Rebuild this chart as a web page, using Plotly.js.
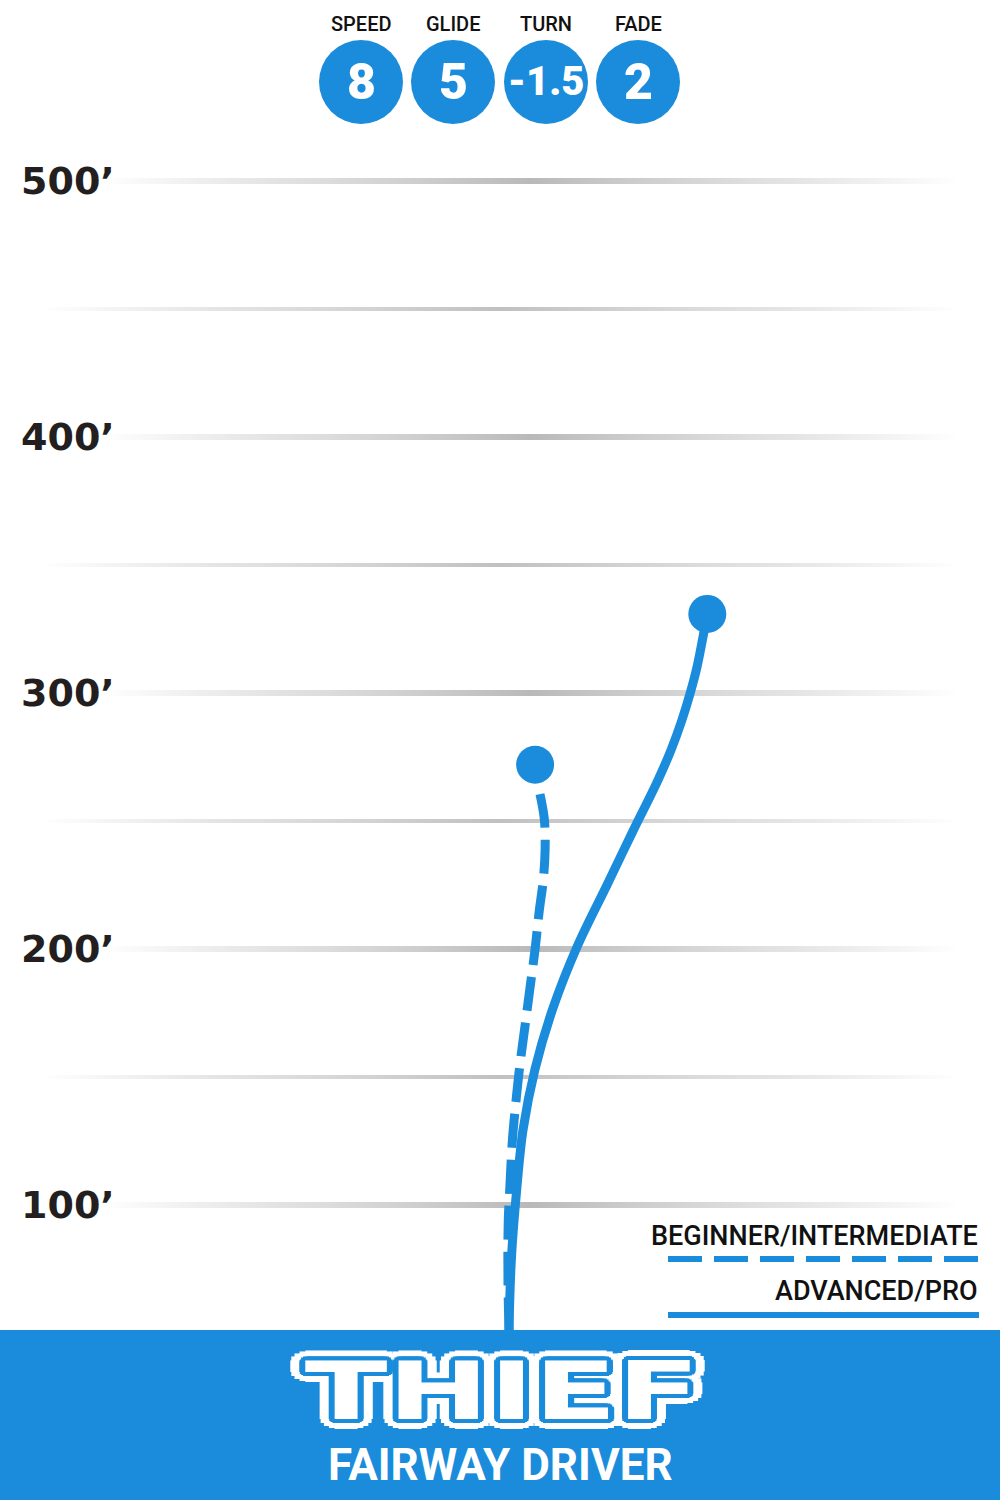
<!DOCTYPE html>
<html>
<head>
<meta charset="utf-8">
<script src="https://cdn.plot.ly/plotly-3.0.1.min.js"></script>
<style>html,body{margin:0;padding:0;background:#fff;}#chart{width:1000px;height:1500px;}</style>
</head>
<body>
<div id="chart"></div>
<script>
// ---- data ----
const statLabels = ['SPEED', 'GLIDE', 'TURN', 'FADE'];
const statValues = ['8', '5', '-1.5', '2'];

const majorTicks = [100, 200, 300, 400, 500];
const majorTickLabels = ['100\u2019', '200\u2019', '300\u2019', '400\u2019', '500\u2019'];
const minorTicks = [150, 250, 350, 450];

// Advanced / Pro flight path (lateral ft, distance ft)
const proX = [0, 0, 0.98, 2.93, 5.47, 10.16, 17.19, 26.56, 38.28, 48.05, 58.2, 63.28, 67.58, 70.9, 73.44, 75.78, 77.46];
const proY = [0, 50, 79.7, 105.1, 129.3, 153.1, 176.95, 200.8, 225.0, 245.3, 266.0, 277.7, 289.5, 300.4, 310.2, 321.9, 330.9];
const proEnd = {x: 77.46, y: 330.9};

// Beginner / Intermediate flight path (listed from landing end toward the tee)
const begX = [12.1, 13.8, 14.1, 13.4, 11.8, 10.2, 8.2, 6.25, 4.3, 2.7, 1.3, 0.4, -0.3, -0.4, 0];
const begY = [260.5, 250.7, 238.7, 227.0, 214.8, 200.0, 184.8, 169.9, 155.1, 140.3, 125.0, 108.2, 93.3, 70.7, 50];
const begEnd = {x: 10.2, y: 272.0};

const legendLabels = ['BEGINNER/INTERMEDIATE', 'ADVANCED/PRO'];
const discName = 'THIEF';
const discType = 'FAIRWAY DRIVER';

// ---- styling / layout ----
const BLUE = '#1a8cdb';
const W = 1000, H = 1500;
const PXFT = 2.56;                 // pixels per foot
const yTop = 500 + 181 / PXFT;     // 500' sits at y=181px
const yRange = [yTop - H / PXFT, yTop];
const xRange = [-509 / PXFT, (W - 509) / PXFT];
const px2x = p => (p - 509) / PXFT;

const traces = [];

function gridTrace(v, halfPx, x0px, x1px, peak) {
  const h = halfPx / PXFT;
  const a = px2x(x0px), b = px2x(x1px);
  return {
    type: 'scatter', mode: 'lines', hoverinfo: 'skip', showlegend: false,
    x: [a, b, b, a, a], y: [v - h, v - h, v + h, v + h, v - h],
    line: {width: 0}, fill: 'toself',
    fillgradient: {
      type: 'horizontal',
      colorscale: [
        [0, 'rgba(200,200,200,0)'],
        [0.2, 'rgba(205,205,205,0.55)'],
        [0.5, `rgba(185,185,185,${peak})`],
        [0.8, 'rgba(205,205,205,0.55)'],
        [1, 'rgba(200,200,200,0)']
      ]
    }
  };
}
majorTicks.forEach(v => traces.push(gridTrace(v, 3, 100, 960, 1)));
minorTicks.forEach(v => traces.push(gridTrace(v, 2, 40, 960, 0.9)));

traces.push({
  type: 'scatter', mode: 'lines', x: proX, y: proY, hoverinfo: 'skip', showlegend: false,
  line: {color: BLUE, width: 9, shape: 'spline'}
});
traces.push({
  type: 'scatter', mode: 'lines', x: begX, y: begY, hoverinfo: 'skip', showlegend: false,
  line: {color: BLUE, width: 9, shape: 'spline', dash: '34px,12px'}
});
traces.push({
  type: 'scatter', mode: 'markers', x: [proEnd.x, begEnd.x], y: [proEnd.y, begEnd.y],
  hoverinfo: 'skip', showlegend: false,
  marker: {color: BLUE, size: 38, line: {width: 0}}
});

const shapes = [];
const annotations = [];

// tick labels
majorTicks.forEach((v, i) => {
  annotations.push({
    xref: 'paper', yref: 'y', x: 0.019, y: v, xanchor: 'left', yanchor: 'middle',
    text: majorTickLabels[i], showarrow: false,
    font: {family: 'DejaVu Sans', size: 38, weight: 'bold', color: '#231f20'}
  });
});

// stat circles
const statCx = [361, 453, 546, 638];
statLabels.forEach((lab, i) => {
  const cx = statCx[i] / W, cy = 1 - 82 / H;
  shapes.push({
    type: 'circle', xref: 'paper', yref: 'paper', layer: 'above',
    x0: cx - 42 / W, x1: cx + 42 / W, y0: cy - 42 / H, y1: cy + 42 / H,
    fillcolor: BLUE, line: {width: 0}
  });
  annotations.push({
    xref: 'paper', yref: 'paper', x: cx, y: 1 - 24 / H, xanchor: 'center', yanchor: 'middle',
    text: lab, showarrow: false,
    font: {family: 'Roboto', size: 20, weight: 500, color: '#111'}
  });
  annotations.push({
    xref: 'paper', yref: 'paper', x: cx, y: cy, xanchor: 'center', yanchor: 'middle',
    text: statValues[i], showarrow: false,
    font: {family: 'Roboto', size: statValues[i].length > 2 ? 40 : 50, weight: 900, color: '#fff'}
  });
});

// legend
const legYText = [1236, 1291], legYLine = [1259, 1315];
legendLabels.forEach((lab, i) => {
  annotations.push({
    xref: 'paper', yref: 'paper', x: 0.98, y: 1 - legYText[i] / H, xanchor: 'right', yanchor: 'middle',
    text: lab, showarrow: false,
    font: {family: 'Roboto', size: 27, weight: 500, color: '#111'}
  });
  shapes.push({
    type: 'line', xref: 'paper', yref: 'paper', x0: 0.668, x1: 0.979,
    y0: 1 - legYLine[i] / H, y1: 1 - legYLine[i] / H,
    line: {color: BLUE, width: 6, dash: i === 0 ? '34px,12px' : 'solid'}
  });
});

// bottom band
shapes.push({
  type: 'rect', xref: 'paper', yref: 'paper', layer: 'above',
  x0: 0, x1: 1, y0: 0, y1: 1 - 1330 / H, fillcolor: BLUE, line: {width: 0}
});

function ring(color, r) {
  const out = [];
  const n = 16;
  for (let k = 0; k < n; k++) {
    const a = 2 * Math.PI * k / n;
    out.push(`${color} ${(r * Math.cos(a)).toFixed(1)}px ${(r * Math.sin(a)).toFixed(1)}px 0`);
  }
  return out.join(', ');
}
const logoShadow = [ring(BLUE, 2), ring(BLUE, 4), ring('#fff', 6), ring('#fff', 8), ring('#fff', 10)].join(', ');

annotations.push({
  xref: 'paper', yref: 'paper', x: 0.5025, y: 1 - 1391 / H, xanchor: 'center', yanchor: 'middle',
  text: discName, showarrow: false,
  font: {family: 'DejaVu Sans', size: 80, weight: 'bold', color: '#fff', shadow: logoShadow}
});
annotations.push({
  xref: 'paper', yref: 'paper', x: 0.5, y: 1 - 1465 / H, xanchor: 'center', yanchor: 'middle',
  text: discType, showarrow: false,
  font: {family: 'Roboto', size: 44, weight: 'bold', color: '#fff'}
});

const layout = {
  width: W, height: H,
  margin: {l: 0, r: 0, t: 0, b: 0},
  paper_bgcolor: '#fff', plot_bgcolor: '#fff',
  showlegend: false,
  xaxis: {range: xRange, visible: false, fixedrange: true},
  yaxis: {range: yRange, visible: false, fixedrange: true},
  shapes: shapes,
  annotations: annotations
};

Plotly.newPlot('chart', traces, layout, {staticPlot: true, responsive: false}).then(gd => {
  gd.querySelectorAll('text.annotation-text').forEach(t => {
    if (t.textContent === discName) {
      t.setAttribute('textLength', '395');
      t.setAttribute('lengthAdjust', 'spacingAndGlyphs');
    }
  });
});
</script>
</body>
</html>
